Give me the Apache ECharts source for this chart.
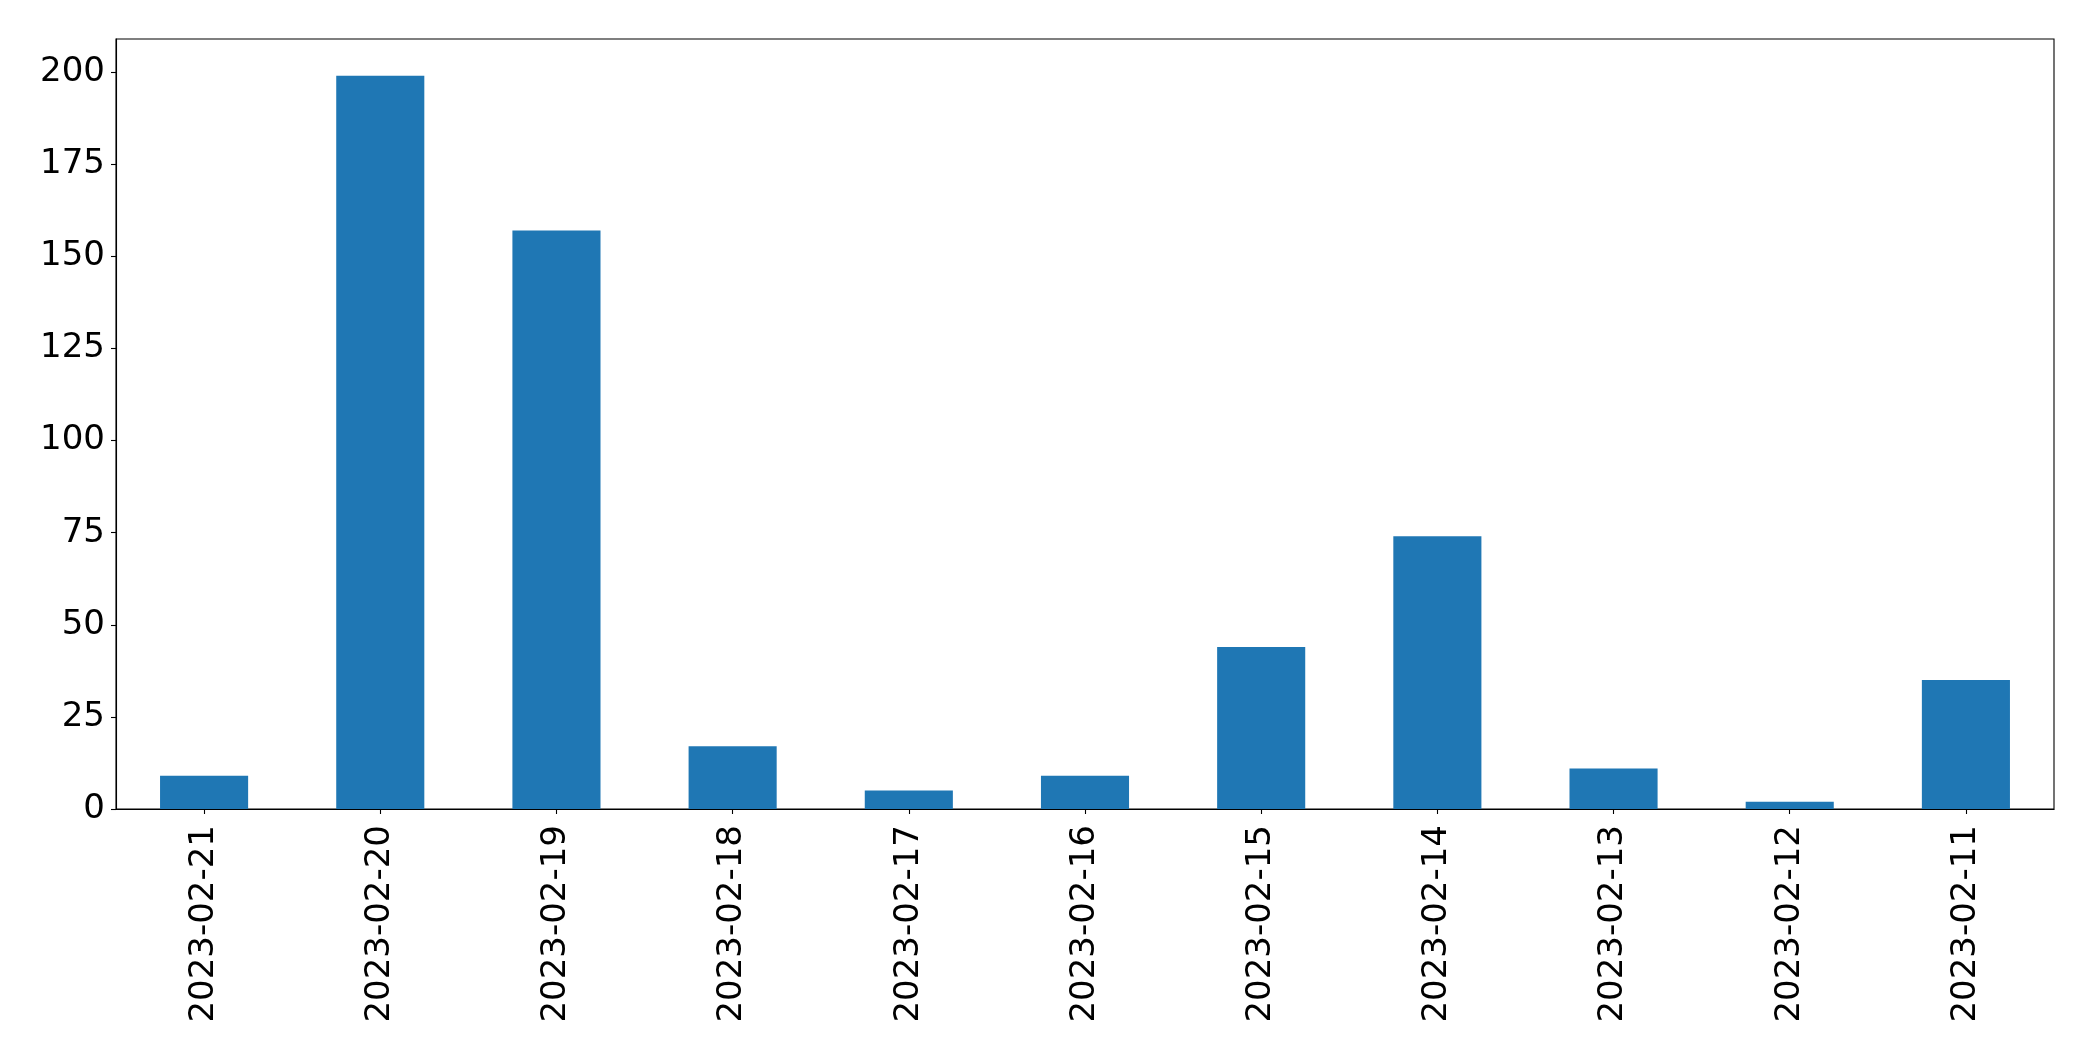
<!DOCTYPE html>
<html>
<head>
<meta charset="utf-8">
<script src="https://cdn.jsdelivr.net/npm/echarts@6/dist/echarts.min.js"></script>
<style>
html,body{margin:0;padding:0;background:#fff;}
#chart{width:2093px;height:1061px;}
</style>
</head>
<body>
<div id="chart"></div>
<script>
var categories = ["2023-02-21","2023-02-20","2023-02-19","2023-02-18","2023-02-17","2023-02-16","2023-02-15","2023-02-14","2023-02-13","2023-02-12","2023-02-11"];
var values = [9, 199, 157, 17, 5, 9, 44, 74, 11, 2, 35];
var yTicks = [0, 25, 50, 75, 100, 125, 150, 175, 200];
var yMax = 209;

var chart = echarts.init(document.getElementById('chart'), null, {renderer: 'canvas'});
var font = 'DejaVu Sans';
chart.setOption({
  animation: false,
  backgroundColor: '#ffffff',
  grid: {
    left: 116, right: 39, top: 39, bottom: 252,
    show: true, borderColor: '#000', borderWidth: 1.1, backgroundColor: 'transparent'
  },
  xAxis: {
    type: 'category',
    data: categories,
    axisLine: {show: true, lineStyle: {color: '#000', width: 1.1}},
    axisTick: {show: true, alignWithLabel: true, length: 5, lineStyle: {color: '#000', width: 1.1}},
    axisLabel: {rotate: 90, color: '#000', fontFamily: font, fontSize: 34, margin: 16, interval: 0},
    splitLine: {show: false}
  },
  yAxis: {
    type: 'value',
    min: 0,
    max: yMax,
    axisLine: {show: true, lineStyle: {color: '#000', width: 1.1}},
    axisTick: {show: true, length: 5, lineStyle: {color: '#000', width: 1.1}, customValues: yTicks},
    axisLabel: {color: '#000', fontFamily: font, fontSize: 34, margin: 11, customValues: yTicks},
    splitLine: {show: false}
  },
  series: [{
    type: 'bar',
    data: values,
    barWidth: '50%',
    itemStyle: {color: '#1f77b4'}
  }]
});
</script>
</body>
</html>
